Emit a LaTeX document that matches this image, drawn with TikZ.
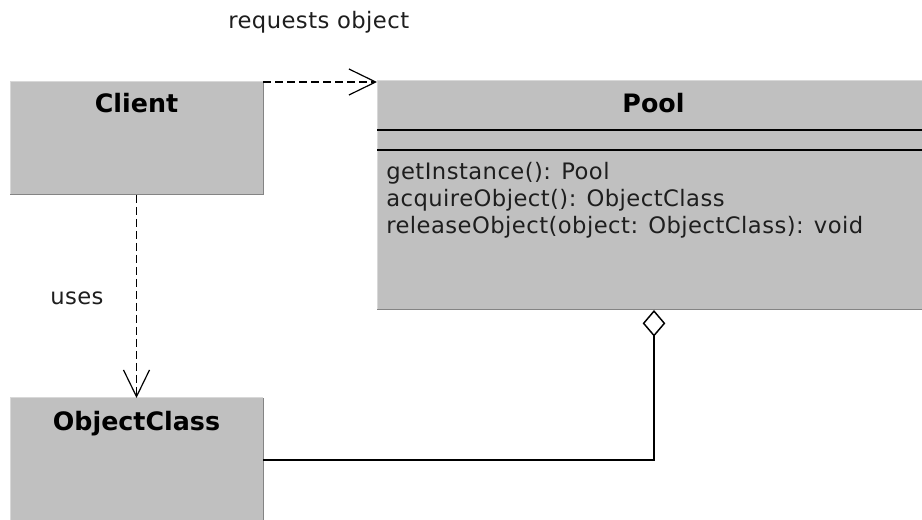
\documentclass[tikz,border=0pt]{standalone}
\usepackage{fontspec}
\setmainfont{DejaVu Sans}
\newfontfamily\membersfont[LetterSpace=2]{DejaVu Sans}
\usetikzlibrary{arrows.meta}

\definecolor{classfill}{HTML}{C0C0C0}
\definecolor{edgelight}{HTML}{D8D8D8}
\definecolor{edgedark}{HTML}{848484}
\definecolor{inktext}{HTML}{1E1E1E}

\begin{document}
\begin{tikzpicture}[
  x=0.75pt, y=-0.75pt,
  classbox/.style={rectangle, fill=classfill, inner sep=0pt, outer sep=0pt, anchor=north west},
  classname/.style={font=\fontsize{19}{23}\selectfont\bfseries, text=black, anchor=base, inner sep=0pt},
  member/.style={font=\membersfont\fontsize{17}{20}\selectfont, text=inktext, anchor=base west, inner sep=0pt},
  linklabel/.style={font=\membersfont\fontsize{17}{20}\selectfont, text=inktext, anchor=base west, inner sep=0pt},
  compsep/.style={line width=1.1pt, black},
  depline/.style={line width=0.9pt, dash pattern=on 6pt off 3pt,
    -{Straight Barb[length=20pt, width=19.5pt, line width=0.9pt]}},
  aggline/.style={line width=1.1pt,
    -{Diamond[open, length=20pt, width=17pt, line width=1.1pt]}},
]
\path[use as bounding box, clip] (0,0) rectangle (922,520);
\fill[white] (0,0) rectangle (922,520);

% class boxes
\node[classbox, minimum width=253*0.75pt, minimum height=113*0.75pt] (client) at (10,82) {};
\node[classbox, minimum width=554*0.75pt, minimum height=229*0.75pt] (pool) at (377,81) {};
\node[classbox, minimum width=253*0.75pt, minimum height=124*0.75pt] (objclass) at (10,398) {};

% raised edges of the boxes
\foreach \b in {client, pool, objclass} {
  \draw[edgelight, line width=0.75pt] (\b.south west) -- (\b.north west) -- (\b.north east);
  \draw[edgedark, line width=0.75pt] (\b.north east) -- (\b.south east) -- (\b.south west);
}

% compartment separators of Pool
\draw[compsep] ([yshift=-49*0.75pt]pool.north west) -- ([yshift=-49*0.75pt]pool.north east);
\draw[compsep] ([yshift=-69*0.75pt]pool.north west) -- ([yshift=-69*0.75pt]pool.north east);

% class names
\node[classname] (clientname) at (136.5,113) {Client};
\node[classname] (poolname) at (653.5,113) {Pool};
\node[classname] (objname) at (136.5,431) {ObjectClass};

% operations of Pool
\node[member] (op1) at (386,180) {getInstance(): Pool};
\node[member] (op2) at (386,207) {acquireObject(): ObjectClass};
\node[member] (op3) at (386,234) {releaseObject(object: ObjectClass): void};

% relationships
\draw[depline] (client.north east) -- (client.north east -| pool.west);
\draw[depline] (client.south) -- (objclass.north);
\draw[aggline] (objclass.east) -| (pool.south);

% relationship labels
\node[linklabel] (reqlabel) at (228,29) {requests object};
\node[linklabel] (useslabel) at (50,305) {uses};
\end{tikzpicture}
\end{document}
